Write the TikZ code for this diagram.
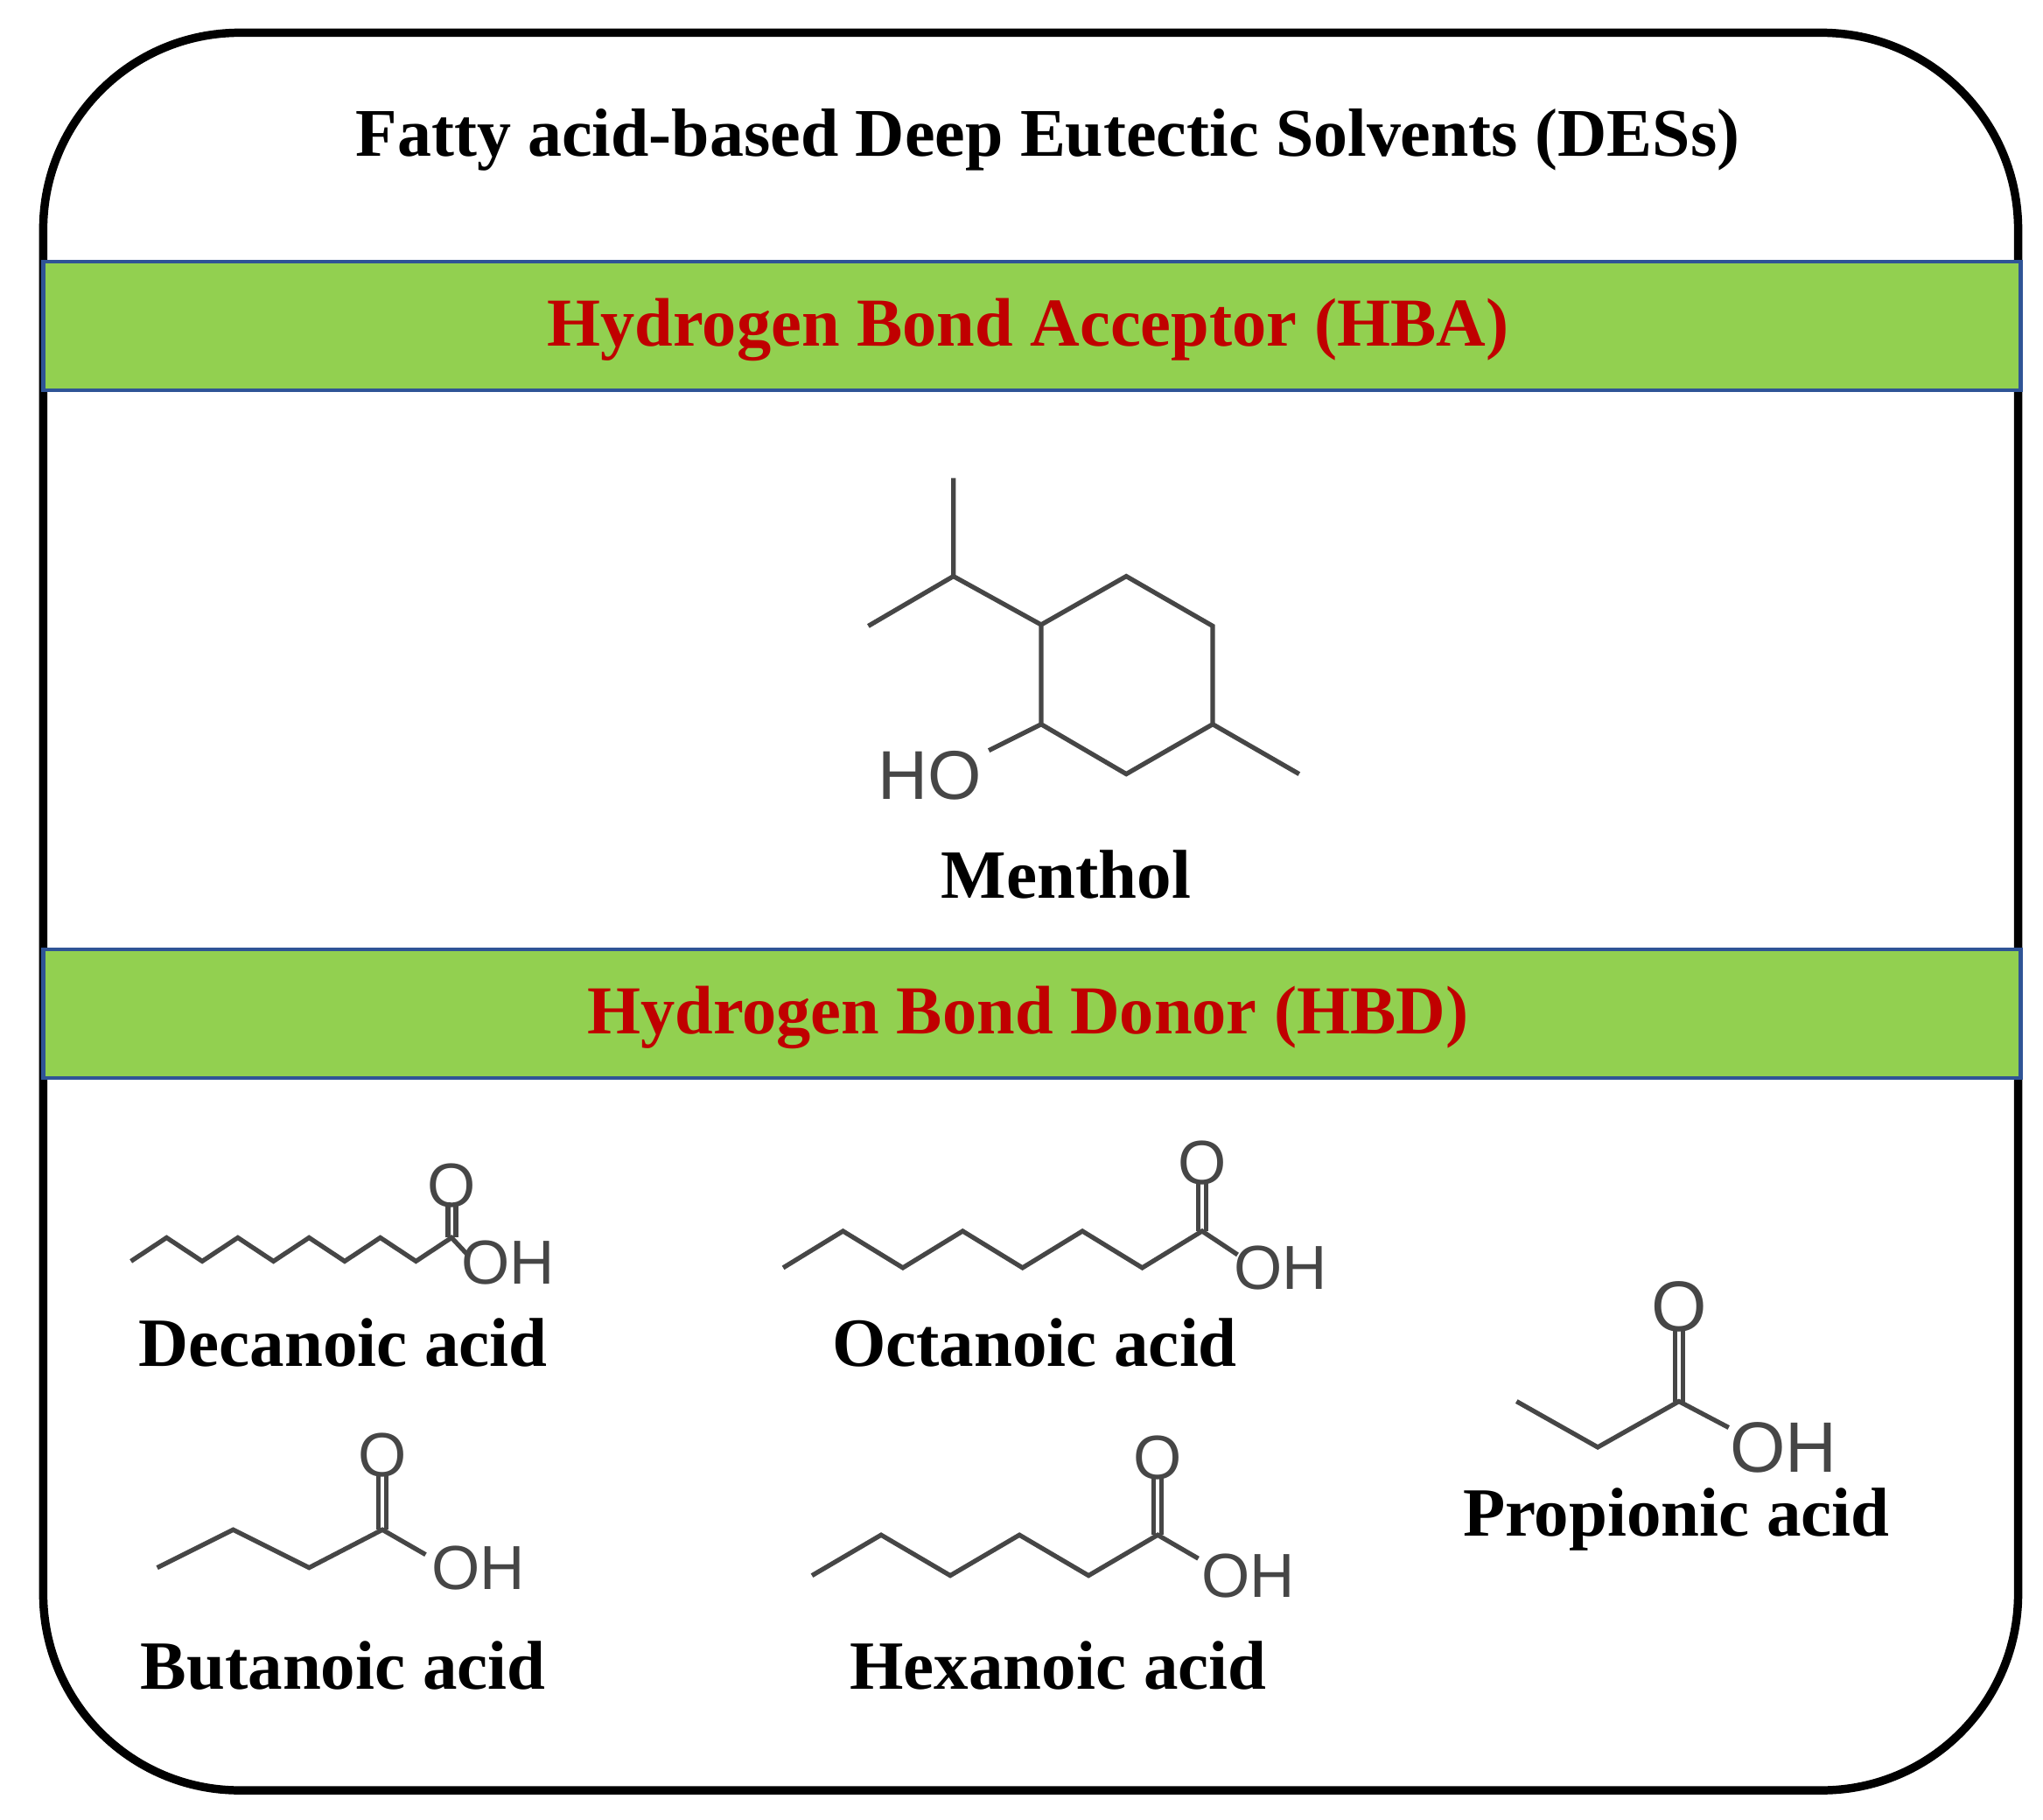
\documentclass[tikz,border=0pt]{standalone}
\usepackage{fontspec}
\setmainfont{Liberation Serif}
\newfontfamily\atomfont{Liberation Sans}
\definecolor{bandgreen}{RGB}{146,208,80}
\definecolor{darkred}{RGB}{192,0,0}
\definecolor{bandblue}{RGB}{47,84,150}
\definecolor{bondgray}{RGB}{70,70,70}
\begin{document}
\begin{tikzpicture}[x=0.01cm,y=-0.01cm,
  bond/.style={draw=bondgray,line width=1pt,line join=miter},
  atom/.style={font=\atomfont\fontsize{13.5}{13.5}\selectfont,text=bondgray,inner sep=0pt},
  lbl/.style={font=\bfseries\fontsize{15}{15}\selectfont},
  band/.style={fill=bandgreen,draw=bandblue,line width=0.8pt},
  bandtxt/.style={font=\bfseries\fontsize{14.9}{14.9}\selectfont,text=darkred}]
\useasboundingbox (0,0) rectangle (1560,1389);
\draw[line width=1.8pt,rounded corners=1.5cm] (33,25) rectangle (1541,1367);
\node[font=\bfseries\fontsize{14.8}{14.8}\selectfont] (title) at (800,107) {Fatty acid-based Deep Eutectic Solvents (DESs)};
\draw[band] (33,200) rectangle (1543,298);
\node[bandtxt] (hba) at (785,252) {Hydrogen Bond Acceptor (HBA)};
\draw[band] (33,725) rectangle (1543,823);
\node[bandtxt] (hbd) at (785,777) {Hydrogen Bond Donor (HBD)};
% Menthol
\draw[bond] (728,365) -- (728,440) -- (663,478);
\draw[bond] (728,440) -- (795,477);
\draw[bond] (795,477) -- (860,440) -- (926,478) -- (926,553) -- (860,591) -- (795,553) -- cycle;
\draw[bond] (926,553) -- (992,591);
\draw[bond] (795,553) -- (755,573);
\node[atom,font=\atomfont\fontsize{15}{15}\selectfont] (ho) at (710,592) {HO};
\node[lbl] (menthol) at (814,668) {Menthol};
% Decanoic
\draw[bond] (100,963) \foreach \i in {1,...,9}{ -- ({100+27.2*\i},{\i/2==int(\i/2)?963:945}) } -- (357,958);
\draw[bond] (342,945) -- (342,918); \draw[bond] (348,945) -- (348,918);
\node[atom] (o1) at (345,905) {O};
\node[atom] (oh1) at (388,964) {OH};
\node[lbl] (dec) at (262,1025) {Decanoic acid};
% Octanoic
\draw[bond] (598,968) \foreach \i in {1,...,7}{ -- ({598+45.7*\i},{\i/2==int(\i/2)?968:940}) } -- (945,958);
\draw[bond] (915,940) -- (915,902); \draw[bond] (921,940) -- (921,902);
\node[atom] (o2) at (918,888) {O};
\node[atom] (oh2) at (978,968) {OH};
\node[lbl] (oct) at (790,1025) {Octanoic acid};
% Butanoic
\draw[bond] (120,1197) -- (178,1168) -- (236,1197) -- (292,1168) -- (325,1187);
\draw[bond] (289,1168) -- (289,1125); \draw[bond] (295,1168) -- (295,1125);
\node[atom] (o3) at (292,1111) {O};
\node[atom] (oh3) at (365,1197) {OH};
\node[lbl] (but) at (262,1272) {Butanoic acid};
% Hexanoic
\draw[bond] (620,1203) \foreach \i in {1,...,5}{ -- ({620+52.8*\i},{\i/2==int(\i/2)?1203:1172}) } -- (915,1190);
\draw[bond] (881,1172) -- (881,1128); \draw[bond] (887,1172) -- (887,1128);
\node[atom] (o4) at (884,1113) {O};
\node[atom] (oh4) at (953,1203) {OH};
\node[lbl] (hex) at (808,1272) {Hexanoic acid};
% Propionic
\draw[bond] (1158,1070) -- (1220,1105) -- (1282,1070) -- (1320,1090);
\draw[bond] (1279,1070) -- (1279,1015); \draw[bond] (1285,1070) -- (1285,1015);
\node[atom,font=\atomfont\fontsize{15.5}{15.5}\selectfont] (o5) at (1282,998) {O};
\node[atom,font=\atomfont\fontsize{15.5}{15.5}\selectfont] (oh5) at (1362,1105) {OH};
\node[lbl] (prop) at (1280,1160) {Propionic acid};
\end{tikzpicture}
\end{document}
